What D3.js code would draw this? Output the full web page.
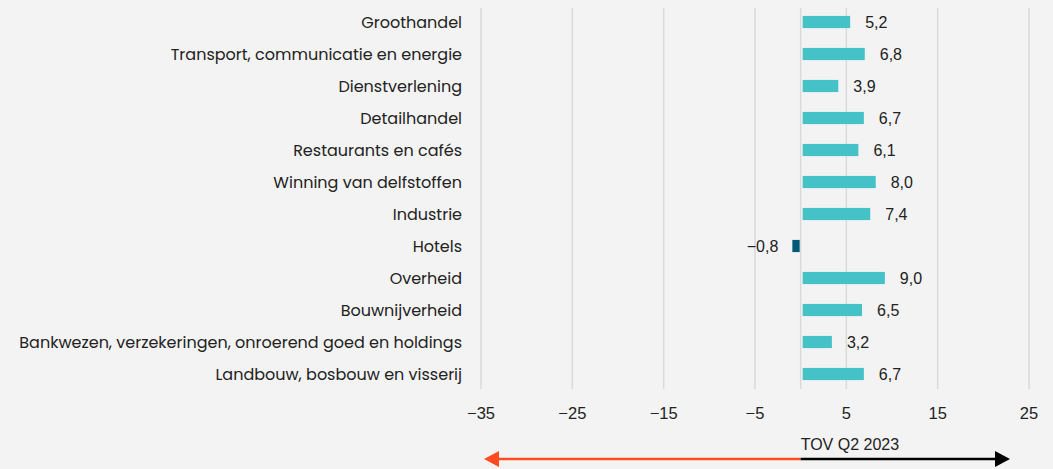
<!DOCTYPE html>
<html>
<head>
<meta charset="utf-8">
<script src="https://cdn.jsdelivr.net/npm/d3@7"></script>
<style>
  body { margin: 0; background: #f3f3f3; }
  svg { display: block; }
</style>
</head>
<body>
<div id="chart"></div>
<script>
var sectors = ["Groothandel", "Transport, communicatie en energie", "Dienstverlening", "Detailhandel",
  "Restaurants en cafés", "Winning van delfstoffen", "Industrie", "Hotels", "Overheid",
  "Bouwnijverheid", "Bankwezen, verzekeringen, onroerend goed en holdings", "Landbouw, bosbouw en visserij"]
var values = [5.2, 6.8, 3.9, 6.7, 6.1, 8.0, 7.4, -0.8, 9.0, 6.5, 3.2, 6.7]
var ticks = [-35, -25, -15, -5, 5, 15, 25]
var axisTitle = "TOV Q2 2023"

var width = 1053, height = 469
// d3.format gives a real minus sign, keep it; only switch the decimal point
var fmt = function(v){ return d3.format(".1f")(v).replace(".", ",") }

var svg = d3.select("#chart").append("svg")
  .attr("width", width).attr("height", height)

svg.append("rect").attr("width", width).attr("height", height).attr("fill", "#f3f3f3")

var x = d3.scaleLinear().domain([-35, 25]).range([481, 1029])
var y = d3.scaleBand().domain(sectors).range([6, 390]).paddingInner(0.62).paddingOuter(0.31)

// gridlines
svg.append("g").selectAll("line")
  .data(ticks.concat([0]))
  .enter().append("line")
    .attr("x1", function(d){ return x(d) }).attr("x2", function(d){ return x(d) })
    .attr("y1", 8).attr("y2", 389)
    .attr("stroke", "#dadada").attr("stroke-width", 1.5)

// tick labels
svg.append("g").selectAll("text")
  .data(ticks)
  .enter().append("text")
    .attr("x", function(d){ return x(d) }).attr("y", 419)
    .attr("text-anchor", "middle")
    .style("font-family", "'Liberation Sans', Arial, sans-serif").style("font-size", "16.5px")
    .attr("fill", "#222")
    .text(function(d){ return d3.format("d")(d) })

// bars
var rows = sectors.map(function(s, i){ return {name: s, value: values[i]} })

svg.append("g").selectAll("rect")
  .data(rows)
  .enter().append("rect")
    .attr("x", function(d){ return x(Math.min(0, d.value)) + (d.value < 0 ? -1 : 2) })
    .attr("width", function(d){ return Math.abs(x(d.value) - x(0)) })
    .attr("y", function(d){ return y(d.name) })
    .attr("height", y.bandwidth())
    .attr("fill", function(d){ return d.value < 0 ? "#005a78" : "#45c2c7" })

// value labels
svg.append("g").selectAll("text")
  .data(rows)
  .enter().append("text")
    .attr("x", function(d){ return d.value < 0 ? x(d.value) - 15 : x(d.value) + 17 })
    .attr("y", function(d){ return y(d.name) + y.bandwidth() / 2 + 6 })
    .attr("text-anchor", function(d){ return d.value < 0 ? "end" : "start" })
    .style("font-family", "'Liberation Sans', Arial, sans-serif").style("font-size", "16px")
    .attr("fill", "#222")
    .text(function(d){ return fmt(d.value) })

// category labels
svg.append("g").selectAll("text")
  .data(sectors)
  .enter().append("text")
    .attr("x", 462)
    .attr("y", function(d){ return y(d) + y.bandwidth() / 2 + 6 })
    .attr("text-anchor", "end")
    .style("font-family", "Poppins, 'Open Sans', sans-serif").style("font-size", "16px")
    .attr("fill", "#222")
    .text(function(d){ return d })

// arrows under axis
var ay = 459
svg.append("line")
  .attr("x1", x(0)).attr("x2", 496).attr("y1", ay).attr("y2", ay)
  .attr("stroke", "#ff4b1f").attr("stroke-width", 2.5)
svg.append("path")
  .attr("d", "M484," + ay + " L499," + (ay - 8) + " L499," + (ay + 8) + " Z")
  .attr("fill", "#ff4b1f")
svg.append("line")
  .attr("x1", x(0)).attr("x2", 998).attr("y1", ay).attr("y2", ay)
  .attr("stroke", "#000").attr("stroke-width", 2.5)
svg.append("path")
  .attr("d", "M1010," + ay + " L995," + (ay - 8) + " L995," + (ay + 8) + " Z")
  .attr("fill", "#000")

svg.append("text")
  .attr("x", x(0)).attr("y", 450)
  .style("font-family", "'Liberation Sans', Arial, sans-serif").style("font-size", "16px")
  .attr("fill", "#222")
  .text(axisTitle)
</script>
</body>
</html>
